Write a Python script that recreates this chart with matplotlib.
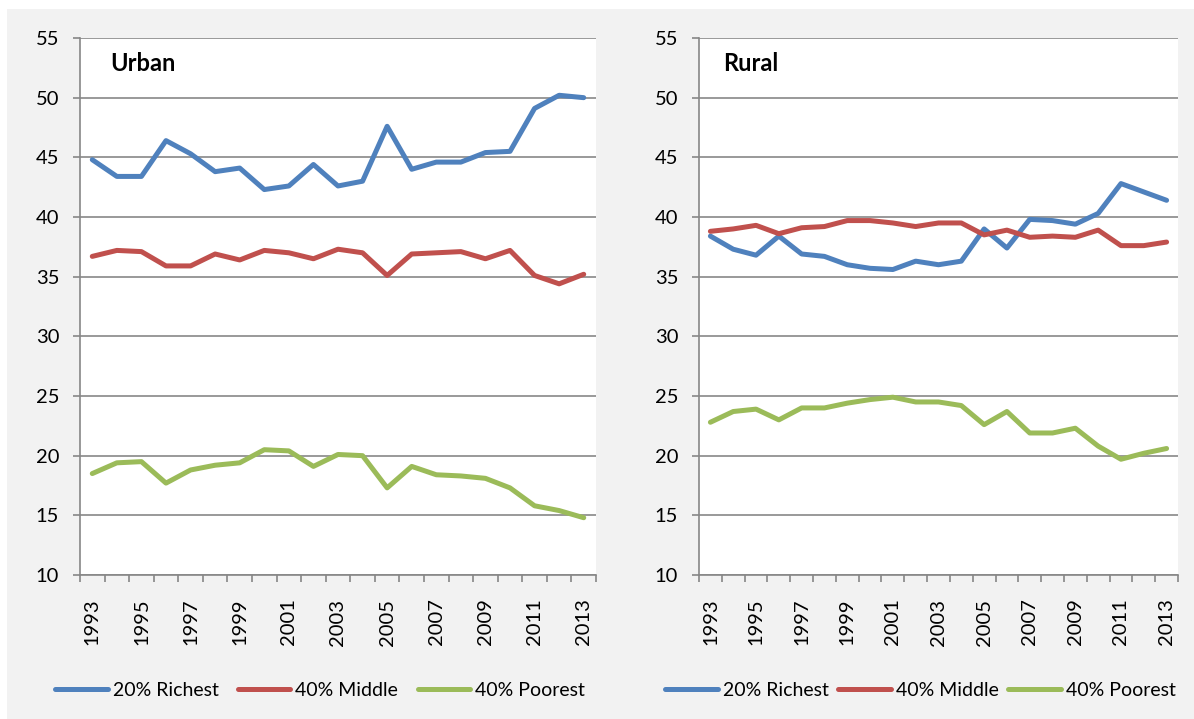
import numpy as np
import matplotlib
matplotlib.use("Agg")
import matplotlib.pyplot as plt
from matplotlib.patches import Rectangle

# data
years = list(range(1993, 2014))

urban_richest = [44.8, 43.4, 43.4, 46.4, 45.3, 43.8, 44.1, 42.3, 42.6, 44.4, 42.6,
                 43.0, 47.6, 44.0, 44.6, 44.6, 45.4, 45.5, 49.1, 50.2, 50.0]
urban_middle = [36.7, 37.2, 37.1, 35.9, 35.9, 36.9, 36.4, 37.2, 37.0, 36.5, 37.3,
                37.0, 35.1, 36.9, 37.0, 37.1, 36.5, 37.2, 35.1, 34.4, 35.2]
urban_poorest = [18.5, 19.4, 19.5, 17.7, 18.8, 19.2, 19.4, 20.5, 20.4, 19.1, 20.1,
                 20.0, 17.3, 19.1, 18.4, 18.3, 18.1, 17.3, 15.8, 15.4, 14.8]

rural_richest = [38.4, 37.3, 36.8, 38.4, 36.9, 36.7, 36.0, 35.7, 35.6, 36.3, 36.0,
                 36.3, 39.0, 37.4, 39.8, 39.7, 39.4, 40.3, 42.8, 42.1, 41.4]
rural_middle = [38.8, 39.0, 39.3, 38.6, 39.1, 39.2, 39.7, 39.7, 39.5, 39.2, 39.5,
                39.5, 38.5, 38.9, 38.3, 38.4, 38.3, 38.9, 37.6, 37.6, 37.9]
rural_poorest = [22.8, 23.7, 23.9, 23.0, 24.0, 24.0, 24.4, 24.7, 24.9, 24.5, 24.5,
                 24.2, 22.6, 23.7, 21.9, 21.9, 22.3, 20.8, 19.7, 20.2, 20.6]

series_names = ["20% Richest", "40% Middle", "40% Poorest"]
colors = ["#4F81BD", "#C0504D", "#9BBB59"]

plt.rcParams["font.family"] = ["Lato", "DejaVu Sans"]

fig = plt.figure(figsize=(11.94, 7.19), dpi=100)
fig.patch.set_facecolor("white")
fig.patches.append(Rectangle((7 / 1194, 0), 1 - 7 / 1194, 1 - 9 / 719,
                             transform=fig.transFigure, facecolor="#F2F2F2",
                             edgecolor="none", zorder=-10))

grid_col = "#878787"
x = np.arange(len(years))


def draw_panel(rect, title, values, title_dx, colspace):
    ax = fig.add_axes(rect)
    ax.set_facecolor("white")
    for vals, name, c in zip(values, series_names, colors):
        ax.plot(x, vals, color=c, lw=3.6, label=name, solid_capstyle="round",
                solid_joinstyle="round")
    ax.set_xlim(-0.5, len(years) - 0.5)
    ax.set_ylim(10, 55)
    ax.set_yticks(range(10, 56, 5))
    ax.yaxis.grid(True, color=grid_col, lw=1.2)
    ax.set_axisbelow(True)
    ax.tick_params(axis="y", length=5, width=1.2, color=grid_col, pad=10,
                   labelsize=14.5, labelcolor="black")

    # tick marks between categories, labels on every other year
    ax.set_xticks(np.arange(-0.5, len(years), 1))
    ax.set_xticklabels([])
    ax.tick_params(axis="x", which="major", length=5, width=1.2, color=grid_col)
    ax.set_xticks(x[::2], minor=True)
    ax.set_xticklabels([str(y) for y in years[::2]], minor=True, rotation=90)
    ax.tick_params(axis="x", which="minor", length=0, pad=17, labelsize=14.5)

    for s in ["top", "right"]:
        ax.spines[s].set_visible(False)
    for s in ["left", "bottom"]:
        ax.spines[s].set_color(grid_col)
        ax.spines[s].set_linewidth(1.2)

    ax.text(title_dx, 0.952, title, transform=ax.transAxes, fontsize=17,
            fontweight="bold", va="center", ha="left")

    ax.legend(loc="center", bbox_to_anchor=((rect[0] + rect[2] / 2) - 18 / 1194, 0.040),
              bbox_transform=fig.transFigure, ncol=3, frameon=False,
              fontsize=14, handlelength=2.7, handletextpad=0.25,
              columnspacing=colspace)
    return ax


bottom = 1 - 575 / 719
height = (575 - 38) / 719
draw_panel([80 / 1194, bottom, 516 / 1194, height], "Urban",
           [urban_richest, urban_middle, urban_poorest], 0.058, 1.0)
draw_panel([699 / 1194, bottom, 479 / 1194, height], "Rural",
           [rural_richest, rural_middle, rural_poorest], 0.05, 0.5)

fig.savefig("out.png", dpi=100, facecolor=fig.get_facecolor())
